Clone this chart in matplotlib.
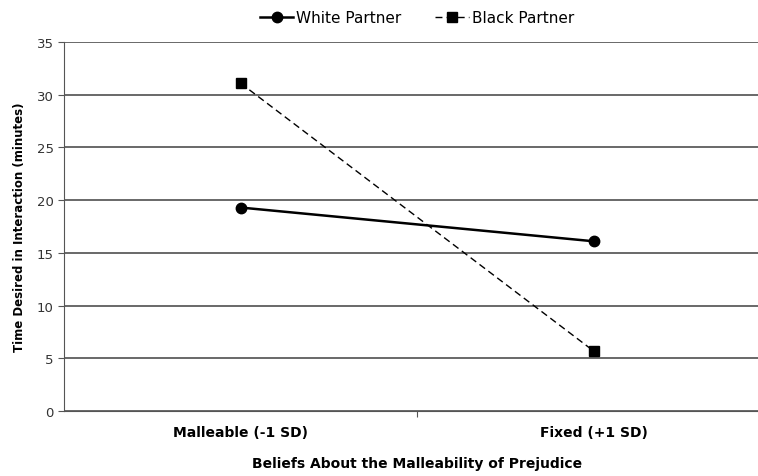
import matplotlib
matplotlib.use('Agg')
import matplotlib.pyplot as plt

categories = ['Malleable (-1 SD)', 'Fixed (+1 SD)']
white_partner = [19.3, 16.1]
black_partner = [31.1, 5.7]
y_ticks = [0, 5, 10, 15, 20, 25, 30, 35]

plt.rcParams['font.family'] = ['DejaVu Sans']

fig = plt.figure(figsize=(7.58, 4.77), dpi=100)
# axes run slightly past the right edge, as in the original crop
ax = fig.add_axes([64 / 758, 1 - 412 / 477, 706 / 758, 369 / 477])

x = [0.5, 1.5]
ax.plot(x, white_partner, color='black', linewidth=1.8, marker='o',
        markersize=7.5, label='White Partner', zorder=3)
ax.plot(x, black_partner, color='black', linewidth=1.0, linestyle=(0, (5, 3)),
        marker='s', markersize=7.5, label='Black Partner', zorder=3)

ax.set_xlim(0, 2)
ax.set_ylim(0, 35)
ax.set_yticks(y_ticks)
ax.yaxis.grid(True, color='#404040', linewidth=1.1)
ax.set_axisbelow(True)

ax.set_xticks([1], minor=False)
ax.set_xticklabels([''])
ax.set_xticks(x, minor=True)
ax.set_xticklabels(categories, minor=True, fontweight='bold', fontsize=10)
ax.tick_params(axis='x', which='minor', length=0, pad=10)
ax.tick_params(axis='x', which='major', length=4, color='#555555')
ax.tick_params(axis='y', labelsize=9.5, length=4, color='#555555', labelcolor='#333333')

for side in ['top', 'right']:
    ax.spines[side].set_visible(False)
for side in ['left', 'bottom']:
    ax.spines[side].set_color('#555555')

ax.set_ylabel('Time Desired in Interaction (minutes)', fontweight='bold', fontsize=8.5)
ax.yaxis.set_label_coords((26 - 64) / 706, 0.5)
ax.set_xlabel('Beliefs About the Malleability of Prejudice', fontweight='bold', fontsize=10)
ax.xaxis.set_label_coords((417 - 64) / 706, -0.122)

fig.legend(loc='upper center', bbox_to_anchor=(417 / 758, 1.005), ncol=2, frameon=False,
           fontsize=11, handlelength=2.2, columnspacing=2.2, handletextpad=0.2)

fig.savefig('out.png', dpi=100)
